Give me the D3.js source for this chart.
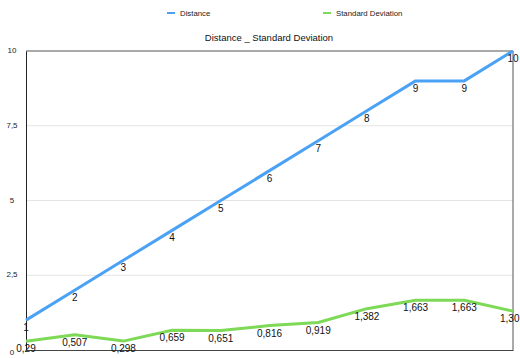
<!DOCTYPE html>
<html>
<head>
<meta charset="utf-8">
<script src="https://cdn.jsdelivr.net/npm/d3@7/dist/d3.min.js"></script>
<style>
  html, body { margin: 0; padding: 0; background: #fff; }
  svg { display: block; font-family: "Liberation Sans", Arial, Helvetica, sans-serif; }
</style>
</head>
<body>
<svg id="chart" width="520" height="358"></svg>
<script>
// Measurement index along the x axis
const categories = ["1", "2", "3", "4", "5", "6", "7", "8", "9", "10", "11"];
// Series values
const distance = [1, 2, 3, 4, 5, 6, 7, 8, 9, 9, 10];
const stdDeviation = [0.29, 0.507, 0.298, 0.659, 0.651, 0.816, 0.919, 1.382, 1.663, 1.663, 1.30];
// Y axis ticks
const yTicks = [0, 2.5, 5, 7.5, 10];

const seriesNames = ["Distance", "Standard Deviation"];
const colors = ["#4ba2f5", "#7ed957"];
const title = "Distance _ Standard Deviation";

const svg = d3.select("#chart");
const W = 520, H = 358;
const plot = { left: 26, right: 513, top: 51, bottom: 350 };

const x = d3.scalePoint().domain(categories).range([plot.left, plot.right]).padding(0);
const y = d3.scaleLinear().domain([0, 10]).range([plot.bottom, plot.top]);

// Decimal comma formatting
const fmt = v => String(v).replace(".", ",");
// Standard deviation labels keep at least two decimals
const fmtStd = v => {
  const dec = Math.max(2, (String(v).split(".")[1] || "").length);
  return v.toFixed(dec).replace(".", ",");
};

// Legend
const legendX = [167, 323];
seriesNames.forEach((name, i) => {
  const g = svg.append("g");
  g.append("line")
    .attr("x1", legendX[i]).attr("x2", legendX[i] + 8)
    .attr("y1", 13).attr("y2", 13)
    .attr("stroke", colors[i]).attr("stroke-width", 2);
  g.append("text")
    .attr("x", legendX[i] + 13).attr("y", 15.8)
    .attr("font-size", 7.8).attr("fill", "#222")
    .text(name);
});

// Title
svg.append("text")
  .attr("x", 269).attr("y", 40.5)
  .attr("text-anchor", "middle")
  .attr("font-size", 9.5).attr("fill", "#111")
  .text(title);

// Horizontal gridlines
svg.append("g").selectAll("line")
  .data(yTicks.filter(t => t > 0 && t < 10))
  .join("line")
  .attr("x1", plot.left).attr("x2", plot.right)
  .attr("y1", d => y(d)).attr("y2", d => y(d))
  .attr("stroke", "#e4e4e4").attr("stroke-width", 1);

// Plot frame: top and right borders
svg.append("line")
  .attr("x1", plot.left).attr("x2", plot.right)
  .attr("y1", plot.top).attr("y2", plot.top)
  .attr("stroke", "#8c8c8c").attr("stroke-width", 1.5);
svg.append("line")
  .attr("x1", plot.right).attr("x2", plot.right)
  .attr("y1", plot.top).attr("y2", plot.bottom)
  .attr("stroke", "#555").attr("stroke-width", 1);

// Y axis
const yAxis = d3.axisLeft(y).tickValues(yTicks).tickSize(0).tickPadding(14).tickFormat(fmt);
const yAxisG = svg.append("g").attr("transform", `translate(${plot.left},0)`).call(yAxis);
yAxisG.select(".domain").attr("stroke", "#222").attr("stroke-width", 1);
yAxisG.selectAll(".tick text")
  .attr("text-anchor", "middle")
  .attr("font-family", "Liberation Sans, Arial, sans-serif")
  .attr("font-size", 8).attr("fill", "#222")
  .attr("dy", d => d === 0 ? "0.6em" : "0.2em");

// X axis baseline
const xAxis = d3.axisBottom(x).tickSize(0).tickFormat("");
const xAxisG = svg.append("g").attr("transform", `translate(0,${plot.bottom})`).call(xAxis);
xAxisG.select(".domain").attr("stroke", "#444").attr("stroke-width", 1);

// Series lines
const lineGen = d3.line()
  .x((d, i) => x(categories[i]))
  .y(d => y(d));

[distance, stdDeviation].forEach((vals, s) => {
  svg.append("path")
    .datum(vals)
    .attr("d", lineGen)
    .attr("fill", "none")
    .attr("stroke", colors[s])
    .attr("stroke-width", 3)
    .attr("stroke-linejoin", "round");
});

// Value labels, kept inside the right edge of the canvas
[[distance, fmt], [stdDeviation, fmtStd]].forEach(([vals, f]) => {
  svg.append("g").selectAll("text")
    .data(vals)
    .join("text")
    .attr("x", (d, i) => x(categories[i]))
    .attr("y", d => y(d) + 11)
    .attr("text-anchor", "middle")
    .attr("font-size", 10).attr("fill", "#111")
    .text(f)
    .each(function () {
      const w = this.getComputedTextLength();
      const cx = +this.getAttribute("x");
      if (cx + w / 2 > W - 0.5) this.setAttribute("x", W - 0.5 - w / 2);
    });
});
</script>
</body>
</html>
